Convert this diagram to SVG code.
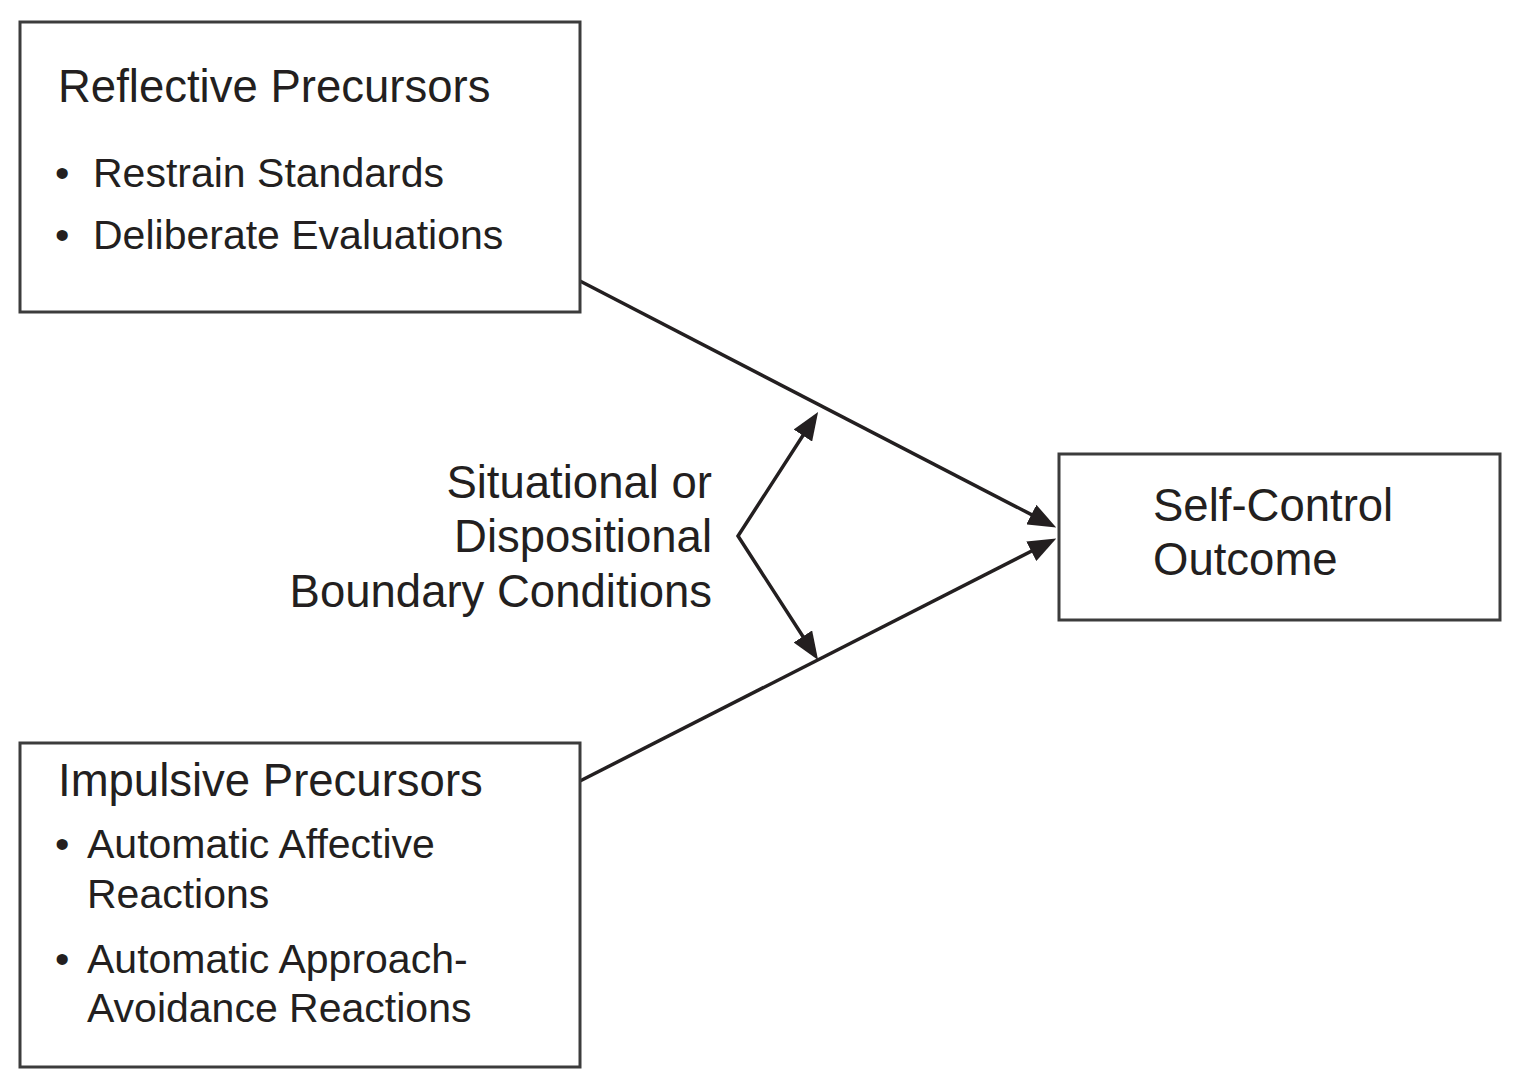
<svg xmlns="http://www.w3.org/2000/svg" width="1537" height="1091" viewBox="0 0 1537 1091">
<style>
  .box { fill: #ffffff; stroke: #3c3c3c; stroke-width: 3; }
  .t { font-family: "Liberation Sans", Arial, sans-serif; fill: #231f20; }
  .h { font-size: 45.5px; }
  .i { font-size: 41px; }
  .conn { fill: none; stroke: #231f20; stroke-width: 3.5; }
</style>
<defs>
  <marker id="arr" markerUnits="userSpaceOnUse" markerWidth="28" markerHeight="22" viewBox="0 0 28 22" refX="12" refY="11" orient="auto-start-reverse">
    <path d="M0,0 L28,11 L0,22 z" fill="#231f20"/>
  </marker>
</defs>
<rect x="0" y="0" width="1537" height="1091" fill="#ffffff"/>
<g id="connectors">
  <path class="conn" d="M580,281 L1042,520.1" marker-end="url(#arr)"/>
  <path class="conn" d="M580,781 L1042,545.8" marker-end="url(#arr)"/>
  <path class="conn" d="M809.4,425.5 L738,536 L809.4,646.5" marker-start="url(#arr)" marker-end="url(#arr)"/>
</g>
<g id="reflective">
  <rect class="box" x="20" y="22" width="560" height="290"/>
  <text class="t h" x="58" y="102">Reflective Precursors</text>
  <text class="t i" x="55" y="187">•</text>
  <text class="t i" x="93" y="187">Restrain Standards</text>
  <text class="t i" x="55" y="249">•</text>
  <text class="t i" x="93" y="249">Deliberate Evaluations</text>
</g>
<g id="impulsive">
  <rect class="box" x="20" y="743" width="560" height="324"/>
  <text class="t h" x="58" y="796">Impulsive Precursors</text>
  <text class="t i" x="55" y="858">•</text>
  <text class="t i" x="87" y="858">Automatic Affective</text>
  <text class="t i" x="87" y="908">Reactions</text>
  <text class="t i" x="55" y="973">•</text>
  <text class="t i" x="87" y="973">Automatic Approach-</text>
  <text class="t i" x="87" y="1022">Avoidance Reactions</text>
</g>
<g id="outcome">
  <rect class="box" x="1059" y="454" width="441" height="166"/>
  <text class="t h" x="1153" y="521">Self-Control</text>
  <text class="t h" x="1153" y="575">Outcome</text>
</g>
<g id="boundary">
  <text class="t h" x="712" y="498" text-anchor="end">Situational or</text>
  <text class="t h" x="712" y="552" text-anchor="end">Dispositional</text>
  <text class="t h" x="712" y="607" text-anchor="end">Boundary Conditions</text>
</g>
</svg>
